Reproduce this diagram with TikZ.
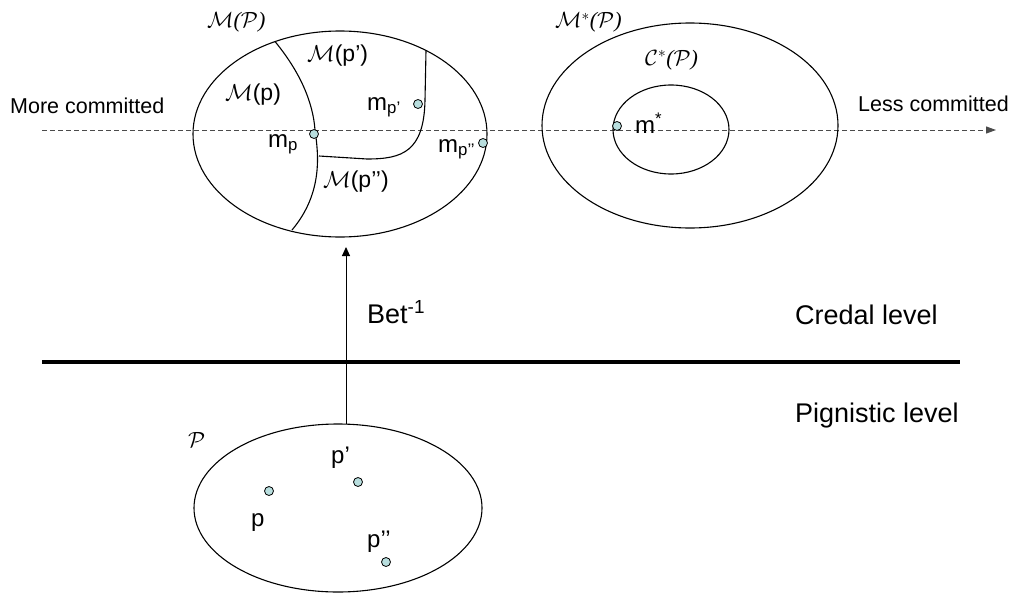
\RequirePackage{fix-cm}
\documentclass[tikz,border=0pt]{standalone}
\usepackage{fontspec}
\setmainfont{Liberation Sans}
\newfontfamily\tnr{Liberation Serif}
\usetikzlibrary{shapes.geometric,arrows.meta}
\definecolor{dotfill}{RGB}{184,222,222}
\definecolor{dashgray}{RGB}{75,75,75}
\newcommand{\ipar}[1]{{\tnr\itshape #1}}
\tikzset{
 lbl/.style={anchor=base west, inner sep=0pt},
 big/.style={lbl, font=\fontsize{27}{32}\selectfont},
 mid/.style={lbl, font=\fontsize{21.5}{26}\selectfont},
 mlab/.style={lbl, font=\fontsize{24}{28}\selectfont},
 reg/.style={lbl, font=\fontsize{23}{27}\selectfont},
 setlab/.style={lbl, font=\fontsize{22}{26}\selectfont},
 dot/.style={circle, draw, fill=dotfill, inner sep=0pt, minimum size=9pt, line width=0.8pt},
 oval/.style={draw, ellipse, inner sep=0pt, line width=1.1pt},
 curve/.style={line width=1.1pt},
}
\begin{document}
\begin{tikzpicture}[x=1pt,y=-1pt]
\useasboundingbox (0,0) rectangle (1016,594);
% dashed commitment axis
\coordinate (dl) at (42,130);
\coordinate (dr) at (996,130);
\draw[dashgray, line width=1pt, dash pattern=on 5pt off 3pt, -{Triangle[length=10pt,width=7pt]}] (dl) -- (dr);
% ellipses
\node[oval, minimum width=294pt, minimum height=206pt] (MP) at (340,134) {};
\node[oval, minimum width=296pt, minimum height=205pt] (MSP) at (690,125.5) {};
\node[oval, minimum width=116pt, minimum height=89pt] (CSP) at (671,129.5) {};
\node[oval, minimum width=288pt, minimum height=168pt] (PP) at (338,508) {};
% region boundaries
\coordinate (c1t) at (275,41.5);
\coordinate (c1b) at (292,230);
\coordinate (c2t) at (426,50.5);
\coordinate (c2e) at (319,156);
\draw[curve] (c1t) .. controls (300,72) and (313,102) .. (315,130) .. controls (318,152) and (324,192) .. (c1b);
\draw[curve] (c2t) -- (425,100) .. controls (424,152) and (402,159) .. (367,159) -- (c2e);
% level separator
\coordinate (hl) at (42,362);
\coordinate (hr) at (960,362);
\draw[line width=3.5pt] (hl) -- (hr);
% Bet^-1 arrow
\coordinate (va) at (346,424);
\coordinate (vb) at (346,247);
\draw[line width=1pt, -{Triangle[length=9pt,width=8pt]}] (va) -- (vb);
% dots
\node[dot] (dmp) at (314,134) {};
\node[dot] (dmp1) at (418,104) {};
\node[dot] (dmp2) at (483,143) {};
\node[dot] (dms) at (617,126) {};
\node[dot] (dp) at (269,491) {};
\node[dot] (dp1) at (358,482) {};
\node[dot] (dp2) at (386,562) {};
% labels
\node[mid] (lmore) at (10,113) {More committed};
\node[mid] (lless) at (858,111) {Less committed};
\node[big] (lbet) at (367,323) {Bet\textsuperscript{-1}};
\node[big] (lcred) at (795,324) {Credal level};
\node[big] (lpign) at (795,422) {Pignistic level};
\node[setlab] (lMP) at (207,28) {$\mathcal{M}$\ipar{(}$\mathcal{P}$\ipar{)}};
\node[setlab] (lMSP) at (555,28) {$\mathcal{M}^{*}$\ipar{(}$\mathcal{P}$\ipar{)}};
\node[setlab] (lCSP) at (645,65) {$\mathcal{C}^{*}$\ipar{(}$\mathcal{P}$\ipar{)}};
\node[setlab] (lP) at (188,447) {$\mathcal{P}$};
\node[reg] (lMp1) at (307,62) {$\mathcal{M}$(p’)};
\node[reg] (lMp) at (225,100) {$\mathcal{M}$(p)};
\node[reg] (lMp2) at (323,187) {$\mathcal{M}$(p’’)};
\node[mlab] (lmp) at (268,147) {m\textsubscript{p}};
\node[mlab] (lmp1) at (367,110) {m\textsubscript{p’}};
\node[mlab] (lmp2) at (438,152) {m\textsubscript{p’’}};
\node[mlab] (lms) at (635,133) {m\textsuperscript{*}};
\node[mlab] (lp) at (251,526) {p};
\node[mlab] (lp1) at (331,463) {p’};
\node[mlab] (lp2) at (367,547) {p’’};
\end{tikzpicture}
\end{document}
